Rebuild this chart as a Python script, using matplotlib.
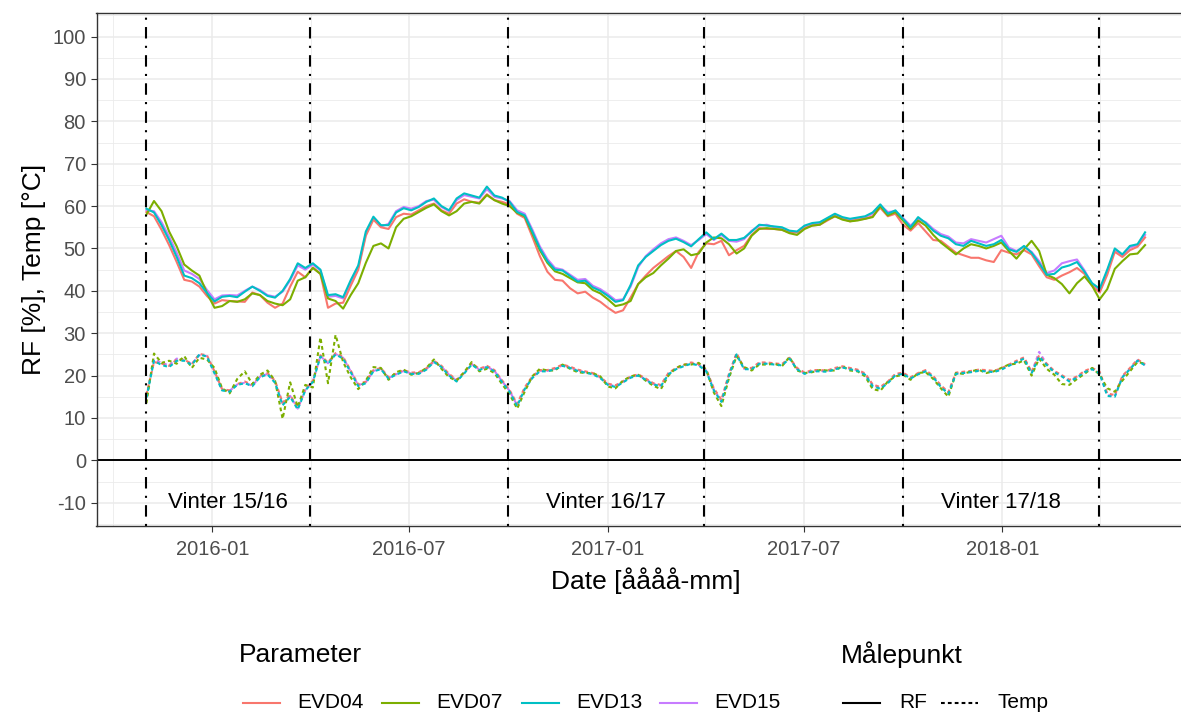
import pandas as pd
import matplotlib
matplotlib.use("Agg")
import matplotlib.pyplot as plt
import matplotlib.dates as mdates
from matplotlib.lines import Line2D

plt.rcParams['font.family'] = ['Liberation Sans', 'DejaVu Sans']
plt.rcParams['axes.unicode_minus'] = False

# Weekly means, first week starting 2015-11-01
dates = pd.date_range("2015-11-01", periods=133, freq="7D")

# Relative humidity [%]
rf_evd04 = [58.6, 57.6, 54.4, 50.8, 46.8, 42.6, 42.2, 41.0, 38.8, 37.0,
            37.8, 37.6, 37.5, 37.4, 39.6, 39.0, 37.2, 36.0, 37.0, 41.0,
            44.5, 43.2, 45.5, 44.0, 36.0, 37.0, 37.2, 41.2, 45.0, 53.0,
            56.8, 55.0, 54.6, 57.4, 58.2, 58.0, 59.0, 60.0, 60.6, 59.0,
            58.2, 60.6, 61.6, 61.0, 60.8, 62.8, 61.4, 61.0, 60.4, 58.2,
            57.2, 52.8, 48.2, 44.5, 42.6, 42.4, 40.6, 39.4, 39.8, 38.4,
            37.4, 36.0, 34.8, 35.4, 38.4, 41.6, 43.6, 45.4, 46.8, 48.2,
            49.4, 48.0, 45.4, 49.2, 51.2, 51.0, 51.8, 48.4, 49.6, 50.6,
            53.2, 54.8, 54.6, 54.6, 54.4, 53.8, 53.8, 54.8, 55.4, 55.6,
            56.6, 57.6, 57.0, 56.4, 56.8, 57.0, 57.6, 59.6, 57.6, 58.2,
            55.6, 54.2, 56.0, 54.0, 52.0, 51.8, 50.4, 49.0, 48.4, 47.8,
            47.8, 47.2, 46.8, 49.6, 49.0, 48.6, 49.6, 48.6, 45.8, 43.2,
            42.6, 43.6, 44.4, 45.4, 44.0, 41.2, 39.6, 43.8, 49.2, 48.0,
            49.6, 50.4, 52.6]
rf_evd07 = [58.0, 61.2, 58.8, 54.0, 50.5, 46.2, 44.8, 43.6, 39.5, 36.0,
            36.4, 37.6, 37.4, 38.0, 39.4, 39.0, 37.6, 37.0, 36.6, 38.0,
            42.4, 43.2, 45.4, 44.0, 38.2, 37.6, 35.8, 39.0, 41.8, 46.6,
            50.6, 51.2, 50.0, 55.0, 57.0, 57.6, 58.6, 59.6, 60.4, 58.8,
            57.8, 58.8, 60.6, 61.0, 60.6, 62.6, 61.4, 60.6, 60.0, 58.4,
            57.6, 53.6, 49.6, 46.6, 44.6, 44.0, 43.0, 42.0, 41.8, 40.2,
            39.4, 38.0, 36.4, 36.8, 37.6, 41.6, 43.2, 44.2, 46.0, 47.6,
            49.4, 49.8, 48.4, 48.8, 51.4, 52.6, 52.4, 51.0, 48.8, 50.0,
            53.0, 54.6, 54.8, 54.6, 54.4, 53.6, 53.2, 54.6, 55.4, 55.6,
            56.8, 57.6, 56.8, 56.4, 56.6, 57.0, 57.4, 60.0, 57.8, 58.6,
            56.6, 54.6, 56.6, 55.4, 53.2, 51.4, 50.0, 48.6, 50.0, 51.0,
            50.6, 50.0, 50.6, 51.4, 49.4, 47.6, 49.8, 51.8, 49.4, 43.8,
            43.0, 41.6, 39.4, 41.8, 43.4, 41.2, 38.0, 40.4, 45.2, 47.0,
            48.6, 48.8, 50.8]
rf_evd13 = [59.4, 58.5, 55.5, 52.0, 48.0, 43.6, 43.0, 41.8, 39.5, 37.5,
            38.6, 38.8, 38.5, 39.8, 41.0, 40.0, 38.8, 38.4, 40.0, 42.8,
            46.5, 45.4, 46.5, 45.0, 39.0, 39.2, 38.5, 42.5, 46.0, 54.0,
            57.5, 55.5, 55.5, 58.5, 59.5, 59.0, 59.8, 61.0, 61.8, 60.0,
            59.0, 61.8, 63.0, 62.5, 62.0, 64.6, 62.5, 62.0, 61.0, 58.6,
            57.8, 54.0, 50.0, 47.0, 45.0, 44.8, 43.5, 42.2, 42.4, 40.8,
            40.0, 38.8, 37.4, 37.8, 41.4, 46.0, 48.0, 49.4, 50.8, 51.8,
            52.3, 51.5, 50.5, 52.2, 53.8, 52.2, 53.5, 52.0, 52.0, 52.5,
            54.0, 55.6, 55.4, 55.2, 55.0, 54.2, 54.0, 55.4, 56.0, 56.2,
            57.2, 58.2, 57.4, 57.0, 57.3, 57.6, 58.5, 60.4, 58.2, 59.0,
            57.0, 55.0, 57.4, 56.0, 54.2, 53.0, 52.4, 51.0, 50.6, 51.8,
            51.2, 50.6, 51.0, 52.0, 49.8, 49.2, 50.6, 49.0, 46.5, 43.8,
            44.0, 45.5, 46.0, 46.8, 44.5, 41.8, 40.5, 45.0, 50.0, 48.6,
            50.6, 51.0, 53.8]
rf_evd15 = [59.0, 58.8, 56.2, 52.8, 49.0, 44.8, 44.0, 42.8, 40.2, 38.0,
            38.9, 39.0, 38.9, 40.0, 41.0, 40.2, 39.0, 38.6, 39.8, 42.5,
            46.0, 45.0, 46.2, 44.8, 38.6, 38.8, 38.2, 42.0, 45.6, 53.4,
            57.2, 55.2, 55.8, 58.8, 59.8, 59.4, 60.0, 61.2, 61.5, 59.8,
            58.8, 61.4, 62.6, 62.2, 61.8, 64.0, 62.2, 61.8, 61.2, 59.0,
            58.2, 54.5, 50.5, 47.5, 45.4, 45.0, 43.8, 42.6, 42.8, 41.2,
            40.4, 39.2, 37.8, 38.0, 41.0, 45.6, 48.2, 49.8, 51.2, 52.2,
            52.6, 51.8, 50.8, 52.0, 53.4, 52.0, 53.2, 51.8, 51.6, 52.2,
            54.2, 55.4, 55.6, 55.0, 54.8, 54.0, 53.8, 55.2, 55.8, 56.0,
            57.0, 58.0, 57.2, 56.8, 57.0, 57.4, 58.2, 60.2, 58.6, 58.8,
            57.2, 55.4, 57.0, 56.2, 54.6, 53.4, 52.8, 51.4, 51.2, 52.2,
            51.8, 51.4, 52.2, 53.0, 50.2, 49.4, 50.4, 49.2, 47.0, 44.2,
            44.8, 46.5, 47.0, 47.4, 44.8, 41.6, 39.8, 44.6, 49.6, 48.4,
            50.2, 50.8, 53.2]

# Temperature [°C]
temp_evd04 = [15.5, 23.2, 22.8, 22.3, 23.8, 23.8, 22.7, 25.1, 24.8, 21.0,
              16.8, 16.5, 18.0, 18.6, 17.8, 19.9, 20.6, 18.8, 13.6, 15.4,
              12.4, 16.8, 18.8, 24.8, 23.1, 25.3, 24.4, 21.2, 17.9, 18.6,
              21.3, 21.8, 19.6, 20.5, 21.3, 20.7, 20.8, 21.7, 23.5, 22.3,
              20.4, 19.0, 20.8, 22.9, 21.6, 22.3, 21.3, 18.9, 16.6, 13.3,
              17.2, 19.8, 21.3, 21.3, 21.8, 22.6, 22.1, 21.4, 21.0, 20.6,
              19.7, 18.1, 17.7, 18.7, 19.8, 20.3, 19.3, 18.2, 17.8, 20.6,
              21.8, 22.5, 23.1, 22.7, 21.4, 17.0, 14.3, 20.4, 25.3, 21.8,
              21.8, 23.1, 23.1, 22.9, 22.7, 24.2, 21.8, 20.7, 21.3, 21.3,
              21.2, 21.8, 22.2, 21.8, 21.4, 20.5, 17.9, 17.3, 18.6, 20.4,
              20.7, 19.6, 20.6, 21.3, 19.9, 17.7, 16.1, 20.7, 20.9, 21.1,
              21.4, 21.3, 21.1, 21.7, 22.6, 23.5, 24.3, 20.9, 24.8, 22.8,
              21.1, 20.1, 19.0, 19.8, 21.1, 21.8, 20.9, 15.8, 15.4, 19.9,
              21.8, 23.8, 22.7]
temp_evd07 = [13.5, 25.2, 23.0, 23.5, 22.8, 24.6, 21.8, 24.2, 23.8, 21.8,
              17.0, 15.8, 19.2, 21.0, 18.0, 20.2, 21.2, 18.8, 9.8, 18.4,
              12.6, 17.8, 17.2, 29.0, 18.2, 29.6, 23.2, 19.6, 16.8, 18.8,
              22.0, 21.8, 19.0, 20.8, 21.4, 20.2, 20.6, 21.8, 23.8, 21.6,
              19.6, 18.8, 20.8, 23.2, 21.0, 21.6, 20.6, 18.0, 15.6, 12.2,
              16.2, 19.8, 21.6, 21.2, 21.2, 22.6, 21.6, 20.8, 20.6, 20.6,
              19.8, 17.4, 17.0, 18.8, 19.8, 20.2, 18.8, 17.6, 16.8, 20.0,
              21.8, 22.6, 22.6, 23.0, 21.4, 16.0, 12.8, 19.4, 24.6, 22.0,
              21.2, 22.6, 22.6, 22.8, 22.2, 24.4, 21.2, 20.6, 20.8, 21.3,
              21.2, 21.2, 22.2, 21.2, 21.0, 19.8, 16.8, 16.4, 18.6, 19.8,
              20.2, 19.0, 20.6, 20.8, 19.2, 17.0, 15.0, 20.6, 20.4, 21.0,
              21.4, 20.6, 21.0, 21.8, 22.6, 22.8, 23.6, 20.0, 24.0, 21.6,
              20.2, 18.0, 17.8, 19.2, 20.4, 21.8, 20.2, 17.0, 16.2, 18.8,
              21.0, 23.2, 22.8]
temp_evd13 = [14.8, 23.5, 22.5, 22.0, 23.5, 23.5, 22.5, 25.0, 24.5, 20.5,
              16.5, 16.2, 17.8, 18.2, 17.5, 19.6, 20.3, 18.3, 13.0, 15.0,
              12.0, 16.5, 18.5, 24.5, 22.8, 25.0, 24.0, 20.8, 17.5, 18.2,
              21.0, 21.5, 19.3, 20.2, 21.0, 20.4, 20.4, 21.4, 23.2, 22.0,
              20.0, 18.6, 20.5, 22.6, 21.3, 22.0, 21.0, 18.5, 16.2, 12.8,
              16.8, 19.4, 21.0, 21.0, 21.5, 22.3, 21.8, 21.1, 20.7, 20.3,
              19.4, 17.8, 17.3, 18.4, 19.5, 20.0, 19.0, 17.9, 17.5, 20.3,
              21.5, 22.2, 22.8, 22.4, 21.0, 16.5, 13.8, 20.0, 25.0, 21.5,
              21.5, 22.8, 22.8, 22.6, 22.4, 24.0, 21.5, 20.4, 21.0, 21.0,
              20.9, 21.5, 21.9, 21.5, 21.1, 20.2, 17.5, 16.9, 18.2, 20.1,
              20.4, 19.3, 20.3, 21.0, 19.6, 17.3, 15.7, 20.4, 20.6, 20.8,
              21.1, 21.0, 20.8, 21.4, 22.3, 23.2, 24.0, 20.5, 24.5, 22.5,
              20.8, 19.8, 18.6, 19.5, 20.8, 21.5, 20.5, 15.2, 15.0, 19.6,
              21.5, 23.5, 22.4]
temp_evd15 = [15.0, 23.8, 23.0, 22.4, 24.0, 23.6, 22.8, 24.8, 24.6, 20.8,
              16.6, 16.4, 17.9, 18.3, 17.6, 19.7, 20.4, 18.5, 13.2, 15.2,
              12.2, 16.6, 18.6, 24.6, 22.9, 25.1, 24.2, 21.0, 17.7, 18.4,
              21.1, 21.6, 19.4, 20.3, 21.1, 20.5, 20.6, 21.5, 23.3, 22.1,
              20.2, 18.8, 20.6, 22.7, 21.4, 22.1, 21.1, 18.7, 16.4, 13.0,
              17.0, 19.6, 21.1, 21.1, 21.6, 22.4, 21.9, 21.2, 20.8, 20.4,
              19.5, 17.9, 17.5, 18.5, 19.6, 20.1, 19.1, 18.0, 17.6, 20.4,
              21.6, 22.3, 22.9, 22.5, 21.2, 16.7, 14.0, 20.2, 25.1, 21.6,
              21.6, 22.9, 22.9, 22.7, 22.5, 24.1, 21.6, 20.5, 21.1, 21.1,
              21.0, 21.6, 22.0, 21.6, 21.2, 20.3, 17.7, 17.1, 18.4, 20.2,
              20.5, 19.4, 20.4, 21.1, 19.7, 17.5, 15.9, 20.5, 20.7, 20.9,
              21.2, 21.1, 20.9, 21.5, 22.4, 23.3, 24.2, 20.7, 25.6, 22.7,
              20.9, 19.9, 18.8, 19.6, 20.9, 21.6, 20.7, 15.4, 15.2, 19.7,
              21.6, 23.6, 22.5]

stations = ["EVD04", "EVD07", "EVD13", "EVD15"]
colors = ["#F8766D", "#7CAE00", "#00BFC4", "#C77CFF"]
rf = [rf_evd04, rf_evd07, rf_evd13, rf_evd15]
temp = [temp_evd04, temp_evd07, temp_evd13, temp_evd15]

winter_bounds = pd.to_datetime(["2015-11-01", "2016-03-31", "2016-10-01",
                                "2017-03-31", "2017-10-01", "2018-03-31"])
winter_labels = ["Vinter 15/16", "Vinter 16/17", "Vinter 17/18"]

W, H = 1181, 716
fig = plt.figure(figsize=(W / 100, H / 100), dpi=100)
left, right, top, bottom = 96.5, 1195, 13.3, 526
ax = fig.add_axes([left / W, 1 - bottom / H, (right - left) / W, (bottom - top) / H])

dotted = (0, (1.8, 1.5))

# draw order: EVD15, EVD04, EVD07, EVD13
for i in [3, 0, 1, 2]:
    ax.plot(dates, rf[i], color=colors[i], lw=1.5, solid_joinstyle="round")
    ax.plot(dates, temp[i], color=colors[i], lw=1.5, linestyle=dotted)

ax.axhline(0, color="black", lw=1.4)
for d in winter_bounds:
    ax.axvline(d, color="black", lw=1.5, linestyle=(0, (1, 3.5, 5.5, 3.5)))
for j, lab in enumerate(winter_labels):
    mid = winter_bounds[2 * j] + (winter_bounds[2 * j + 1] - winter_bounds[2 * j]) / 2
    ax.text(mid, -10, lab, ha="center", va="center", fontsize=16, color="black")

pad = pd.Timedelta(days=46.2)
ax.set_xlim(dates[0] - pad, dates[-1] + pad)
ax.set_ylim(-15.5, 105.5)

ax.set_yticks(range(-10, 101, 10))
ax.set_yticks(range(-15, 106, 10), minor=True)
ax.xaxis.set_major_locator(mdates.MonthLocator(bymonth=[1, 7]))
ax.xaxis.set_minor_locator(mdates.MonthLocator(bymonth=[4, 10]))
ax.xaxis.set_major_formatter(mdates.DateFormatter("%Y-%m"))

ax.grid(which="major", color="#EBEBEB", lw=1.1)
ax.grid(which="minor", color="#EBEBEB", lw=0.6)
ax.set_axisbelow(True)
ax.tick_params(which="major", length=4.3, width=0.8, color="#333333",
               labelcolor="#4D4D4D", labelsize=14.5, pad=3.3)
ax.tick_params(axis="x", which="major", pad=5.5)
ax.tick_params(which="minor", length=0)
for s in ax.spines.values():
    s.set_color("#333333")
    s.set_linewidth(1.0)

ax.set_xlabel("Date [åååå-mm]", fontsize=19, labelpad=6.2)
ax.set_ylabel("RF [%], Temp [°C]", fontsize=19, labelpad=5)

# legends drawn in pixel positions below the panel
def px(x, y):
    return x / W, 1 - y / H

fig.text(*px(239, 655), "Parameter", fontsize=19, va="center", ha="left")
key_x = [243, 382, 522, 660]
for i, name in enumerate(stations):
    x0 = key_x[i]
    (a, b), (c, _) = px(x0, 703), px(x0 + 37, 703)
    fig.add_artist(Line2D([a, c], [b, b], color=colors[i], lw=1.5))
    fig.text(*px(x0 + 54, 703), name, fontsize=15, va="center", ha="left")

fig.text(*px(841, 655), "Målepunkt", fontsize=19, va="center", ha="left")
for x0, ls, name in [(843, "-", "RF"), (941, dotted, "Temp")]:
    (a, b), (c, _) = px(x0, 703), px(x0 + 37, 703)
    fig.add_artist(Line2D([a, c], [b, b], color="black", lw=1.5, linestyle=ls))
    fig.text(*px(x0 + 56, 703), name, fontsize=15, va="center", ha="left")

fig.savefig("out.png", dpi=100)
